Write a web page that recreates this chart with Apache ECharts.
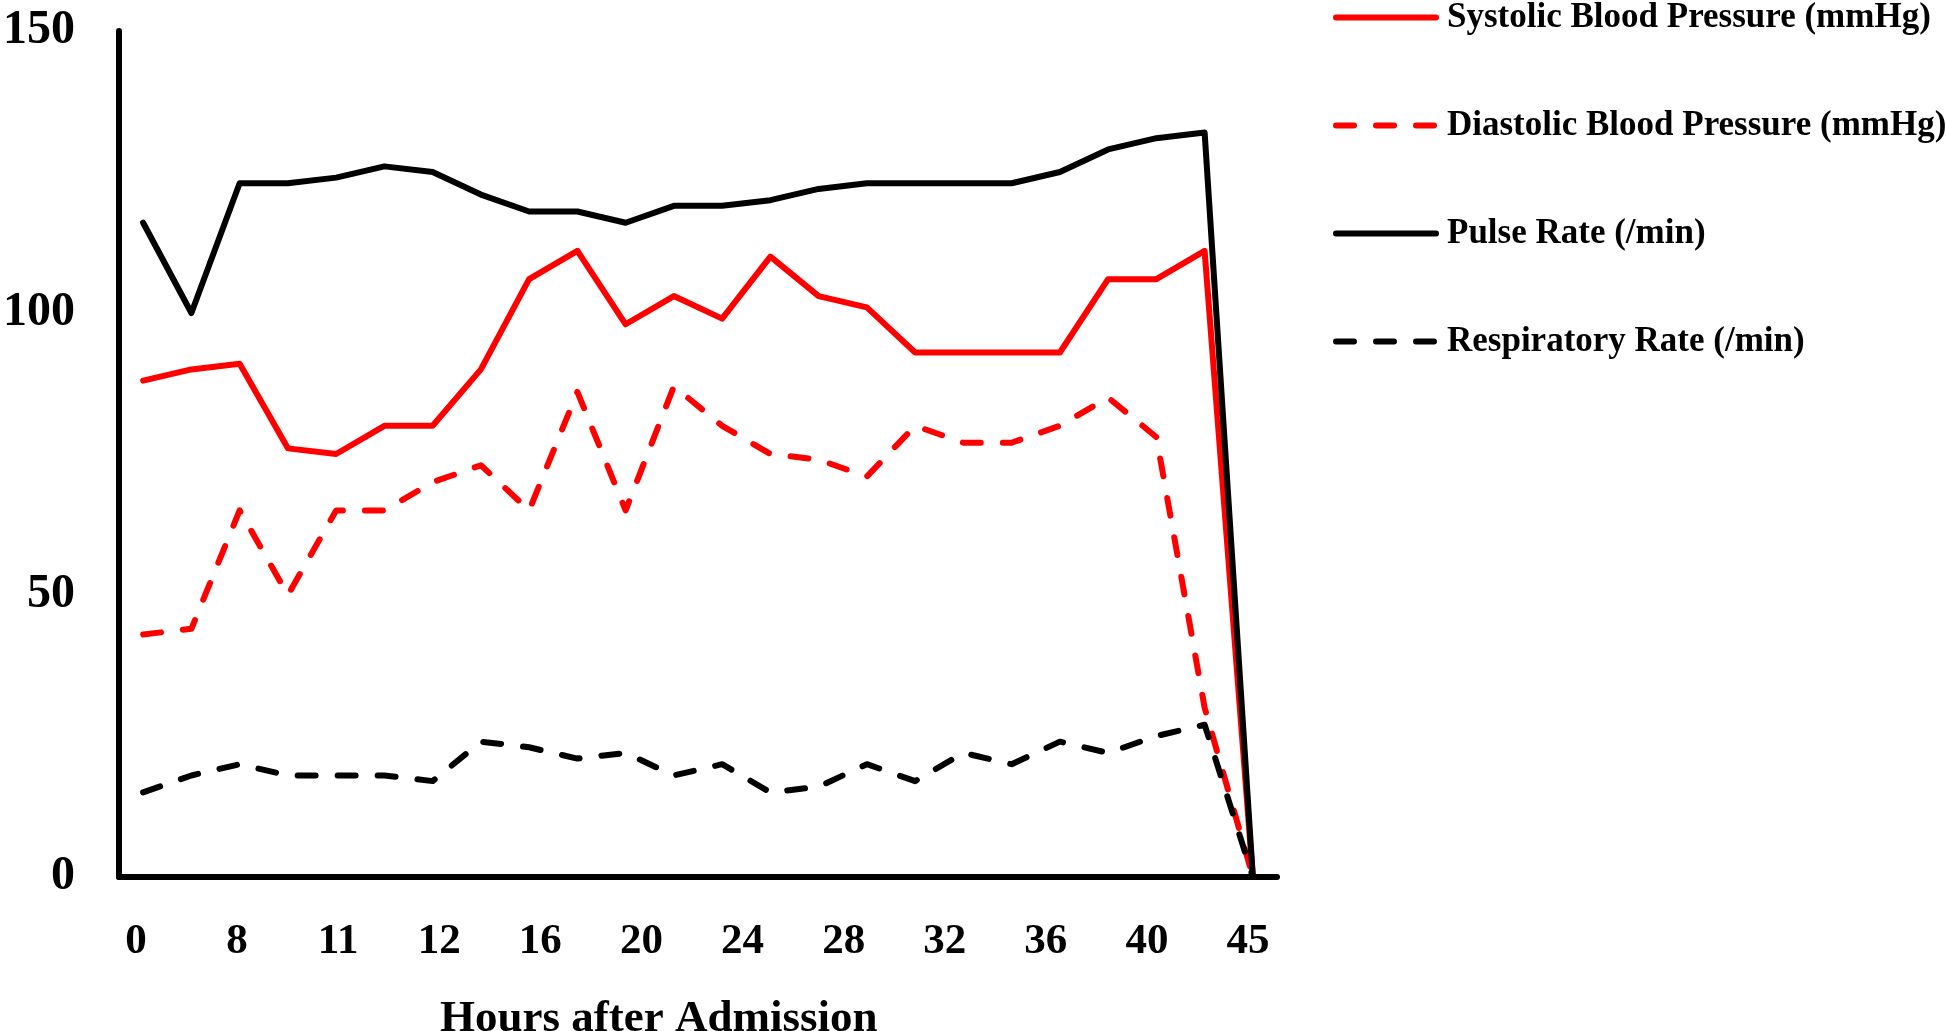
<!DOCTYPE html>
<html>
<head>
<meta charset="utf-8">
<title>Vital signs after admission</title>
<script src="https://cdn.jsdelivr.net/npm/echarts/dist/echarts.min.js"></script>
<style>
  html, body { margin: 0; padding: 0; background: #fff; }
  #chart { width: 1946px; height: 1031px; }
</style>
</head>
<body>
<div id="chart"></div>
<script>
// reading index (24 readings), only every few are labelled on the axis
const readings = ['1', '2', '3', '4', '5', '6', '7', '8', '9', '10', '11', '12',
  '13', '14', '15', '16', '17', '18', '19', '20', '21', '22', '23', '24'];
const hourLabels = ['0', '8', '11', '12', '16', '20', '24', '28', '32', '36', '40', '45'];

const systolic = [88, 90, 91, 76, 75, 80, 80, 90, 106, 111, 98, 103, 99, 110, 103, 101, 93, 93, 93, 93, 106, 106, 111, 0];
const diastolic = [43, 44, 65, 50, 65, 65, 70, 73, 65, 86, 65, 87, 80, 75, 74, 71, 80, 77, 77, 80, 85, 78, 30, 0];
const pulse = [116, 100, 123, 123, 124, 126, 125, 121, 118, 118, 116, 119, 119, 120, 122, 123, 123, 123, 123, 125, 129, 131, 132, 0];
const respiratory = [15, 18, 20, 18, 18, 18, 17, 24, 23, 21, 22, 18, 20, 15, 16, 20, 17, 22, 20, 24, 22, 25, 27, 0];

const FONT = "'Liberation Serif', 'Times New Roman', serif";
const DASH = [18, 22];

function makeSeries(name, data, color, dashed) {
  return {
    name: name,
    type: 'line',
    xAxisIndex: 0,
    yAxisIndex: 0,
    data: data,
    symbol: 'none',
    clip: false,
    lineStyle: {
      color: color,
      width: 6,
      type: dashed ? DASH : 'solid',
      cap: 'round',
      join: 'round',
    },
    itemStyle: { color: color },
  };
}

const chart = echarts.init(document.getElementById('chart'));

const opts = {
  animation: false,
  backgroundColor: '#ffffff',
  title: {
    text: 'Hours after Admission',
    left: 440,
    top: 997,
    padding: 0,
    textStyle: { fontFamily: FONT, fontWeight: 'bold', fontSize: 45, color: '#000' },
  },
  legend: {
    orient: 'vertical',
    left: 1333,
    top: 0,
    padding: 0,
    itemWidth: 100,
    itemHeight: 14,
    itemGap: 73,
    itemStyle: { opacity: 0 },
    lineStyle: { width: 6 },
    textStyle: {
      fontFamily: FONT, fontWeight: 'bold', fontSize: 35, color: '#000',
      lineHeight: 26, padding: [0, 0, 0, 6],
    },
    data: ['Systolic Blood Pressure (mmHg)', 'Diastolic Blood Pressure (mmHg)',
      'Pulse Rate (/min)', 'Respiratory Rate (/min)'],
  },
  grid: [
    { left: 116, top: 31, width: 1161, bottom: 154 },
    // grid used only to place the hour labels
    { left: 136, top: 31, width: 1112, bottom: 154 },
  ],
  xAxis: [
    {
      type: 'category',
      gridIndex: 0,
      data: readings,
      boundaryGap: true,
      axisLine: { show: true, lineStyle: { color: '#000', width: 6 } },
      axisTick: { show: false },
      axisLabel: { show: false },
      splitLine: { show: false },
    },
    {
      type: 'category',
      gridIndex: 1,
      data: hourLabels,
      boundaryGap: false,
      axisLine: { show: false },
      axisTick: { show: false },
      axisLabel: {
        interval: 0, margin: 43,
        fontFamily: FONT, fontWeight: 'bold', fontSize: 43, color: '#000',
      },
      splitLine: { show: false },
    },
  ],
  yAxis: [
    {
      type: 'value',
      gridIndex: 0,
      min: 0,
      max: 150,
      interval: 50,
      axisLine: { show: true, lineStyle: { color: '#000', width: 6 } },
      axisTick: { show: false },
      splitLine: { show: false },
      axisLabel: {
        margin: 44,
        fontFamily: FONT, fontWeight: 'bold', fontSize: 48, color: '#000',
      },
    },
    {
      type: 'value',
      gridIndex: 1,
      min: 0,
      max: 150,
      show: false,
    },
  ],
  series: [
    makeSeries('Systolic Blood Pressure (mmHg)', systolic, '#ff0000', false),
    makeSeries('Diastolic Blood Pressure (mmHg)', diastolic, '#ff0000', true),
    makeSeries('Pulse Rate (/min)', pulse, '#000000', false),
    makeSeries('Respiratory Rate (/min)', respiratory, '#000000', true),
  ],
};

chart.setOption(opts);
</script>
</body>
</html>
